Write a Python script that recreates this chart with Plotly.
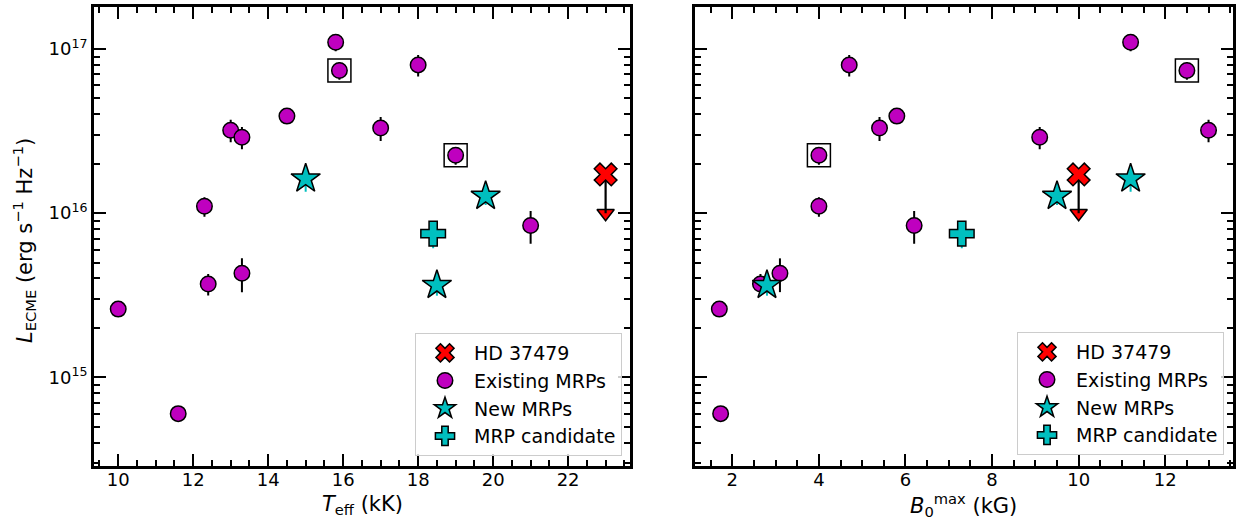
import plotly.graph_objects as go

# ---------------- data ----------------
# Existing MRPs
exist_teff = [10.0, 11.6, 12.4, 13.3, 12.3, 13.0, 13.3, 14.5, 15.8, 15.9, 17.0, 18.0, 19.0, 21.0]
exist_b0 = [1.7, 1.73, 2.65, 3.1, 4.0, 13.0, 9.1, 5.8, 11.2, 12.5, 5.4, 4.7, 4.0, 6.2]
exist_L = [2.6e15, 6.0e14, 3.7e15, 4.3e15, 1.1e16, 3.2e16, 2.9e16, 3.9e16,
           1.1e17, 7.4e16, 3.3e16, 8.0e16, 2.25e16, 8.4e15]
exist_Lerr = [1e14, 3e13, 5.5e14, 1.0e15, 1.5e15, 5e15, 4.5e15, 2e15,
              1.3e16, 9e15, 5.5e15, 1.2e16, 2.8e15, 1.9e15]

# Boxed (highlighted) existing MRPs
boxed_teff = [15.9, 19.0]
boxed_b0 = [12.5, 4.0]
boxed_L = [7.4e16, 2.25e16]

# New MRPs
new_teff = [15.0, 19.8, 18.5]
new_b0 = [11.2, 9.5, 2.8]
new_L = [1.62e16, 1.27e16, 3.64e15]
new_Lerr = [2.7e15, 1.5e15, 5e14]

# MRP candidate
cand_teff = [18.4]
cand_b0 = [7.3]
cand_L = [7.5e15]
cand_Lerr = [1.4e15]

# HD 37479 (upper limit)
hd_teff = [23.0]
hd_b0 = [10.0]
hd_L = [1.72e16]

# tick labels
y_major = [1e15, 1e16, 1e17]
y_major_text = ["10<sup>15</sup>", "10<sup>16</sup>", "10<sup>17</sup>"]

# ---------------- styling ----------------
MAG = "#BF00BF"
CYAN = "#00BFBF"
RED = "#FF0000"
FONT = "DejaVu Sans"
UPLIM_FRAC = 0.42  # arrow length as fraction of value

W, H = 1236, 522
left_dom = [94 / W, 631 / W]
right_dom = [696 / W, 1235 / W]
y_dom = [1 - 466 / H, 1 - 7 / H]

fig = go.Figure()


def add_panel(xvals, xb, xn, xc, xh, xa, ya, legend):
    # existing
    fig.add_trace(go.Scatter(
        x=xvals, y=exist_L, mode="markers", name="Existing MRPs",
        xaxis=xa, yaxis=ya, legend=legend, legendrank=2, legendgroup="e",
        error_y=dict(type="data", array=exist_Lerr, color="black", thickness=2, width=0),
        marker=dict(symbol="circle", size=15.5, color=MAG, line=dict(color="black", width=1.5))))
    # boxes
    fig.add_trace(go.Scatter(
        x=xb, y=boxed_L, mode="markers", xaxis=xa, yaxis=ya, legend=legend,
        marker=dict(symbol="square-open", size=23, color="black", line=dict(color="black", width=1.5)),
        showlegend=False, hoverinfo="skip"))
    # new MRPs
    fig.add_trace(go.Scatter(
        x=xn, y=new_L, mode="markers", name="New MRPs",
        xaxis=xa, yaxis=ya, legend=legend, legendrank=3, legendgroup="n",
        error_y=dict(type="data", array=new_Lerr, color=CYAN, thickness=2, width=0),
        marker=dict(symbol="star", size=22, color=CYAN, line=dict(color="black", width=1.5))))
    # candidate
    fig.add_trace(go.Scatter(
        x=xc, y=cand_L, mode="markers", name="MRP candidate",
        xaxis=xa, yaxis=ya, legend=legend, legendrank=4, legendgroup="c",
        error_y=dict(type="data", array=cand_Lerr, color=CYAN, thickness=2, width=0),
        marker=dict(symbol="cross", size=20.5, color=CYAN, line=dict(color="black", width=1.5))))
    # HD 37479 upper limit: line + arrow head
    fig.add_trace(go.Scatter(
        x=xh, y=[v * (1 - UPLIM_FRAC) for v in hd_L], mode="markers",
        xaxis=xa, yaxis=ya, legend=legend,
        marker=dict(symbol="triangle-down", size=15, color=RED, line=dict(color="black", width=1.5)),
        showlegend=False, hoverinfo="skip"))
    fig.add_trace(go.Scatter(
        x=xh, y=hd_L, mode="markers", name="HD 37479",
        xaxis=xa, yaxis=ya, legend=legend, legendrank=1, legendgroup="h",
        error_y=dict(type="data", symmetric=False, array=[0] * len(hd_L),
                     arrayminus=[v * UPLIM_FRAC for v in hd_L],
                     color="black", thickness=2.2, width=0),
        marker=dict(symbol="x", size=20, color=RED, line=dict(color="black", width=1.5))))


add_panel(exist_teff, boxed_teff, new_teff, cand_teff, hd_teff, "x", "y", "legend")
add_panel(exist_b0, boxed_b0, new_b0, cand_b0, hd_b0, "x2", "y2", "legend2")

minor_y = [k * 10 ** d for d in range(14, 18) for k in range(2, 10)]

axis_common = dict(
    showline=True, linewidth=2.5, linecolor="black", mirror="ticks",
    ticks="inside", ticklen=12, tickwidth=2, tickcolor="black",
    showgrid=False, zeroline=False,
    tickfont=dict(family=FONT, size=18, color="black"),
)

xminor = dict(ticks="inside", ticklen=6, tickwidth=1.5, tickcolor="black", dtick=0.5, tick0=0, showgrid=False)
yminor = dict(ticks="inside", ticklen=6, tickwidth=1.5, tickcolor="black",
              tickmode="array", tickvals=minor_y, showgrid=False)

legend_common = dict(
    xanchor="right", yanchor="bottom",
    bgcolor="rgba(255,255,255,0.8)", bordercolor="#cccccc", borderwidth=1,
    font=dict(family=FONT, size=19, color="black"), tracegroupgap=0,
    itemwidth=48,
)

fig.update_layout(
    width=W, height=H,
    margin=dict(l=0, r=0, t=0, b=0),
    paper_bgcolor="white", plot_bgcolor="white",
    font=dict(family=FONT, size=18, color="black"),
    xaxis=dict(domain=left_dom, anchor="y", range=[9.35, 23.65], dtick=2, tick0=0,
               ticklabelstandoff=-4, minor=xminor, **axis_common),
    yaxis=dict(domain=y_dom, anchor="x", type="log", range=[14.459, 17.256],
               tickmode="array", tickvals=y_major, ticktext=y_major_text,
               minor=yminor, **axis_common),
    xaxis2=dict(domain=right_dom, anchor="y2", range=[1.135, 13.565], dtick=2, tick0=0,
                ticklabelstandoff=-4, minor=xminor, **axis_common),
    yaxis2=dict(domain=y_dom, anchor="x2", type="log", range=[14.459, 17.256],
                tickmode="array", tickvals=y_major, ticktext=y_major_text,
                showticklabels=False, minor=yminor, **axis_common),
    legend=dict(x=623 / W, y=1 - 456 / H, **legend_common),
    legend2=dict(x=1226 / W, y=1 - 455 / H, **legend_common),
    annotations=[
        dict(text="<i>L</i><sub>ECME</sub> (erg s<sup>\u22121</sup> Hz<sup>\u22121</sup>)",
             textangle=-90, x=24 / W, y=1 - 240 / H, xref="paper", yref="paper",
             xanchor="center", yanchor="middle", showarrow=False,
             font=dict(family=FONT, size=21, color="black")),
        dict(text="<i>T</i><sub>eff</sub> (kK)", x=363 / W, y=1 - 505 / H,
             xref="paper", yref="paper", xanchor="center", yanchor="middle", showarrow=False,
             font=dict(family=FONT, size=21, color="black")),
        dict(text="<i>B</i><sub>0</sub><sup>max</sup> (kG)", x=965.5 / W, y=1 - 505 / H,
             xref="paper", yref="paper", xanchor="center", yanchor="middle", showarrow=False,
             font=dict(family=FONT, size=21, color="black")),
    ],
)

fig.write_html("out.html", config={"displayModeBar": False},
               post_script="document.body.style.margin='0';document.body.style.padding='0';")
